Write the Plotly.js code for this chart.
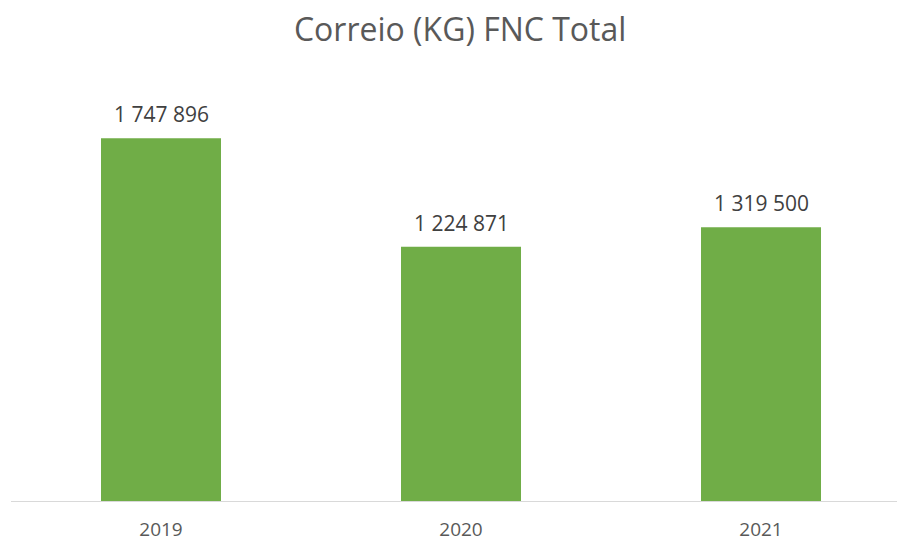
<!DOCTYPE html>
<html>
<head>
<meta charset="utf-8">
<script src="https://cdn.plot.ly/plotly-3.0.1.min.js"></script>
<style>html,body{margin:0;padding:0;background:#fff;}#chart{width:897px;height:542px;}</style>
</head>
<body>
<div id="chart"></div>
<script>
const categories = ["2019", "2020", "2021"];
const values = [1747896, 1224871, 1319500];

function fmt(v) {
  return String(v).replace(/\B(?=(\d{3})+(?!\d))/g, " ");
}

const trace = {
  type: "bar",
  x: categories,
  y: values,
  width: 0.4,
  marker: { color: "#70ad47" },
  hoverinfo: "none"
};

const annotations = categories.map((c, i) => ({
  x: i,
  y: values[i],
  xref: "x",
  yref: "y",
  text: fmt(values[i]),
  showarrow: false,
  yanchor: "bottom",
  yshift: 8,
  font: { family: "Open Sans, sans-serif", size: 21, color: "#404040" }
}));

const layout = {
  width: 897,
  height: 542,
  margin: { l: 11, r: 0, t: 86, b: 41 },
  paper_bgcolor: "#ffffff",
  plot_bgcolor: "#ffffff",
  title: {
    text: "Correio (KG) FNC Total",
    x: 0.513,
    xanchor: "center",
    y: 0.945,
    yanchor: "middle",
    font: { family: "Open Sans, sans-serif", size: 32, color: "#595959" }
  },
  xaxis: {
    type: "category",
    range: [-0.5, 2.4533],
    showline: true,
    linecolor: "#d9d9d9",
    linewidth: 1,
    showgrid: false,
    zeroline: false,
    ticks: "",
    tickfont: { family: "Open Sans, sans-serif", size: 19, color: "#595959" },
    ticklabelstandoff: 11
  },
  yaxis: {
    range: [0, 2000000],
    showticklabels: false,
    showline: false,
    showgrid: false,
    zeroline: false,
    ticks: ""
  },
  annotations: annotations,
  showlegend: false
};

Plotly.newPlot("chart", [trace], layout, { displayModeBar: false, staticPlot: true });
</script>
</body>
</html>
